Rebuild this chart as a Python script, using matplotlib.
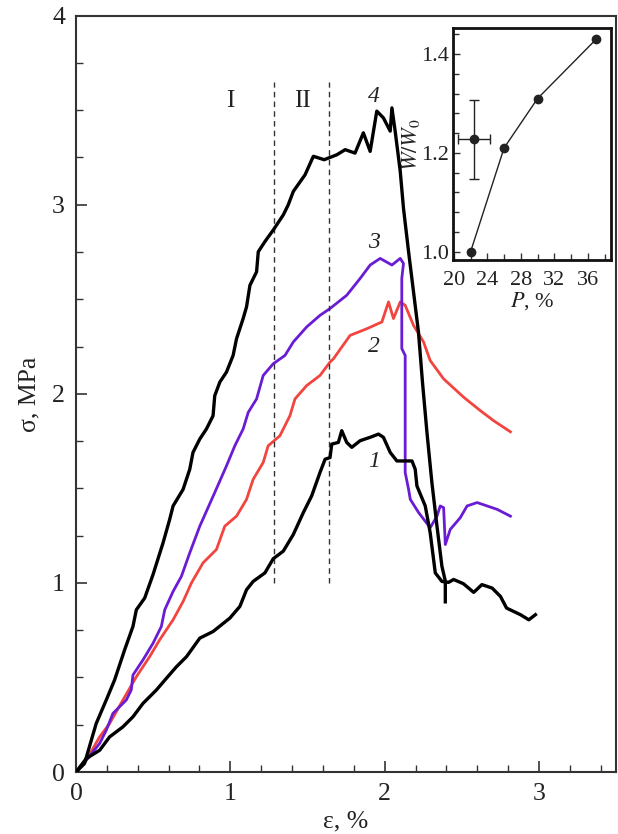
import numpy as np
import matplotlib
matplotlib.use('Agg')
import matplotlib.pyplot as plt
from matplotlib.ticker import MultipleLocator, FormatStrFormatter

plt.rcParams['font.family'] = ['Liberation Serif', 'DejaVu Serif']
plt.rcParams['mathtext.fontset'] = 'stix'

# Curve 1 (black, lower)
eps1 = [0, 0.066, 0.153, 0.218, 0.304, 0.369, 0.434, 0.521, 0.586, 0.651, 0.716, 0.802, 0.888,
        0.997, 1.062, 1.105, 1.148, 1.224, 1.278, 1.343, 1.408, 1.473, 1.527, 1.581, 1.614, 1.646,
        1.657, 1.700, 1.722, 1.754, 1.787, 1.841, 1.873, 1.906, 1.960, 1.992, 2.036, 2.079, 2.177,
        2.198, 2.209, 2.263, 2.295, 2.317, 2.328, 2.371, 2.414, 2.447, 2.510, 2.577, 2.630, 2.696,
        2.750, 2.790, 2.880, 2.934, 2.977]
sig1 = [0, 0.071, 0.115, 0.186, 0.239, 0.292, 0.363, 0.434, 0.496, 0.557, 0.610, 0.708, 0.743,
        0.814, 0.876, 0.964, 1.008, 1.053, 1.128, 1.168, 1.256, 1.372, 1.460, 1.584, 1.654, 1.663,
        1.734, 1.743, 1.805, 1.743, 1.717, 1.752, 1.761, 1.770, 1.787, 1.770, 1.690, 1.645, 1.645,
        1.601, 1.513, 1.407, 1.265, 1.124, 1.053, 1.008, 1.003, 1.018, 0.996, 0.950, 0.991, 0.973,
        0.929, 0.867, 0.832, 0.805, 0.832]

# Curve 2 (red)
eps2 = [0, 0.066, 0.153, 0.218, 0.304, 0.391, 0.477, 0.542, 0.629, 0.694, 0.748, 0.823, 0.910,
        0.964, 1.040, 1.105, 1.148, 1.213, 1.245, 1.321, 1.386, 1.419, 1.495, 1.581, 1.646, 1.668,
        1.776, 1.884, 1.982, 2.025, 2.057, 2.101, 2.133, 2.187, 2.252, 2.295, 2.382, 2.512, 2.620,
        2.706, 2.815]
sig2 = [0, 0.062, 0.186, 0.257, 0.381, 0.504, 0.610, 0.699, 0.805, 0.902, 1.000, 1.106, 1.177,
        1.300, 1.353, 1.442, 1.548, 1.637, 1.725, 1.778, 1.884, 1.973, 2.044, 2.097, 2.168, 2.185,
        2.309, 2.344, 2.380, 2.486, 2.398, 2.486, 2.468, 2.362, 2.274, 2.176, 2.079, 1.982, 1.911,
        1.858, 1.799]

# Curve 3 (purple)
eps3 = [0, 0.066, 0.153, 0.196, 0.239, 0.326, 0.358, 0.369, 0.434, 0.499, 0.553, 0.575, 0.629,
        0.683, 0.737, 0.802, 0.899, 0.975, 1.029, 1.083, 1.116, 1.170, 1.213, 1.278, 1.354, 1.408,
        1.495, 1.581, 1.646, 1.754, 1.841, 1.906, 1.971, 2.047, 2.101, 2.122, 2.111, 2.111, 2.133,
        2.133, 2.155, 2.166, 2.220, 2.295, 2.339, 2.360, 2.382, 2.393, 2.425, 2.490, 2.534, 2.599,
        2.664, 2.729, 2.815]
sig3 = [0, 0.062, 0.151, 0.221, 0.310, 0.381, 0.434, 0.513, 0.593, 0.681, 0.770, 0.858, 0.955,
        1.035, 1.159, 1.300, 1.478, 1.619, 1.725, 1.814, 1.902, 1.973, 2.097, 2.159, 2.203, 2.274,
        2.354, 2.415, 2.451, 2.521, 2.610, 2.681, 2.716, 2.681, 2.716, 2.689, 2.610, 2.239, 2.203,
        1.584, 1.495, 1.442, 1.372, 1.292, 1.353, 1.407, 1.398, 1.203, 1.283, 1.345, 1.407, 1.425,
        1.407, 1.389, 1.353]

# Curve 4 (black, upper)
eps4 = [0, 0.055, 0.131, 0.196, 0.250, 0.315, 0.369, 0.391, 0.445, 0.499, 0.564, 0.607, 0.629,
        0.694, 0.737, 0.758, 0.802, 0.845, 0.888, 0.899, 0.932, 0.975, 1.018, 1.040, 1.083, 1.105,
        1.127, 1.170, 1.181, 1.224, 1.278, 1.343, 1.375, 1.408, 1.484, 1.538, 1.608, 1.690, 1.744,
        1.808, 1.862, 1.906, 1.949, 1.992, 2.036, 2.047, 2.068, 2.101, 2.122, 2.155, 2.187, 2.219,
        2.245, 2.274, 2.306, 2.339, 2.371, 2.393, 2.393]
sig4 = [0, 0.045, 0.257, 0.381, 0.487, 0.646, 0.770, 0.858, 0.920, 1.044, 1.212, 1.336, 1.407,
        1.495, 1.601, 1.690, 1.761, 1.814, 1.884, 1.990, 2.062, 2.115, 2.203, 2.291, 2.398, 2.460,
        2.574, 2.645, 2.751, 2.805, 2.866, 2.946, 2.999, 3.070, 3.158, 3.256, 3.238, 3.264, 3.291,
        3.273, 3.380, 3.282, 3.495, 3.459, 3.389, 3.512, 3.389, 3.176, 2.981, 2.751, 2.539, 2.327,
        2.062, 1.796, 1.531, 1.300, 1.088, 1.010, 0.900]

# Inset: W/W0 vs porosity P
p_vals = [22, 26, 30, 37]
w_vals = [1.0, 1.21, 1.31, 1.43]
err_p, err_w = 22.4, 1.228
err_dp, err_dw = 1.9, 0.08

fig = plt.figure(figsize=(6.18, 8.34), dpi=100)
ax = fig.add_axes([0.123, 0.0743, 0.874, 0.907])

ax.plot(eps1, sig1, color='black', lw=2.4, zorder=3)
ax.plot(eps2, sig2, color='#f2453f', lw=2.0, zorder=2)
ax.plot(eps3, sig3, color='#6a1bd4', lw=2.0, zorder=2)
ax.plot(eps4, sig4, color='black', lw=2.4, zorder=3)

# stage boundaries
for xb in [1.28, 1.64]:
    ax.plot([xb, xb], [1.0, 3.65], color='#333333', lw=1.0, ls=(0, (4, 3)))

ax.text(1.0, 3.55, 'I', fontsize=18, ha='center', va='center', color='#222222')
ax.text(1.47, 3.55, 'II', fontsize=18, ha='center', va='center', color='#222222')
for lab, xl, yl in [('4', 1.93, 3.57), ('3', 1.93, 2.80), ('2', 1.93, 2.25), ('1', 1.93, 1.64)]:
    ax.text(xl, yl, lab, fontsize=17, style='italic', ha='center', va='center', color='#222222')

ax.set_xlim(0, 3.5)
ax.set_ylim(0, 4)
ax.xaxis.set_major_locator(MultipleLocator(1))
ax.xaxis.set_minor_locator(MultipleLocator(0.2))
ax.yaxis.set_major_locator(MultipleLocator(1))
ax.yaxis.set_minor_locator(MultipleLocator(0.25))
ax.tick_params(which='both', direction='in', labelsize=18.5, color='#333333', labelcolor='#222222')
ax.tick_params(which='major', length=8, width=1.2, pad=8)
ax.tick_params(which='minor', length=5, width=1.0)
for sp in ax.spines.values():
    sp.set_linewidth(1.5)
    sp.set_color('#333333')
ax.set_xlabel('ε, %', fontsize=18.5, color='#222222', labelpad=4)
ax.set_ylabel('σ, MPa', fontsize=18.5, color='#222222', labelpad=8)

# inset
axi = fig.add_axes([0.733, 0.688, 0.256, 0.278])
axi.plot(p_vals, w_vals, color='#222222', lw=1.0, marker='o', ms=6, mfc='#222222', mec='#222222')
axi.errorbar([err_p], [err_w], xerr=[err_dp], yerr=[err_dw], fmt='o', color='#222222',
             ms=6, lw=1.0, capsize=3.5, capthick=1.0)
axi.set_xlim(19.9, 38.8)
axi.set_ylim(0.983, 1.452)
axi.xaxis.set_major_locator(MultipleLocator(4))
axi.xaxis.set_minor_locator(MultipleLocator(2))
axi.yaxis.set_major_locator(MultipleLocator(0.2))
axi.yaxis.set_minor_locator(MultipleLocator(0.04))
axi.yaxis.set_major_formatter(FormatStrFormatter('%.1f'))
axi.tick_params(which='both', direction='in', labelsize=16, color='#333333', labelcolor='#222222')
axi.tick_params(axis='x', which='major', length=5, width=1.0, pad=8)
axi.tick_params(axis='y', which='major', length=5, width=1.0, pad=3)
axi.tick_params(which='minor', length=4, width=1.0)
for sp in axi.spines.values():
    sp.set_linewidth(2.0)
    sp.set_color('#111111')
axi.set_xlabel('$P$, %', fontsize=16, color='#222222', labelpad=0)
axi.set_ylabel('$W/W_0$', fontsize=16, color='#222222', labelpad=-1)

fig.savefig('out.png', dpi=100)
